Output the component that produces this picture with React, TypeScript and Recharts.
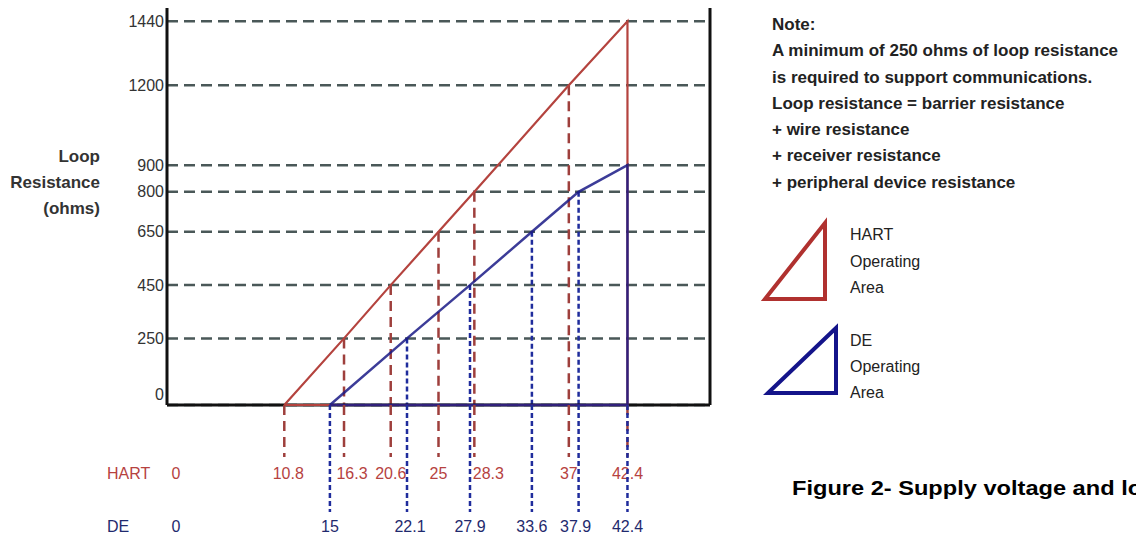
import { LineChart, Line, XAxis, YAxis, CartesianGrid, ReferenceLine } from "recharts";

// supply voltage (V) at each marked loop resistance (ohms)
const HART_VOLTS = [10.8, 16.3, 20.6, 25, 28.3, 37, 42.4];
const HART_OHMS = [0, 250, 450, 650, 800, 1200, 1440];
const DE_VOLTS = [15, 22.1, 27.9, 33.6, 37.9, 42.4];
const DE_OHMS = [0, 250, 450, 650, 800, 900];
const Y_TICKS = [0, 250, 450, 650, 800, 900, 1200, 1440];

const NOTE_LINES = [
  "Note:",
  "A minimum of 250 ohms of loop resistance",
  "is required to support communications.",
  "Loop resistance = barrier resistance",
  "+ wire resistance",
  "+ receiver resistance",
  "+ peripheral device resistance",
];

const RED = "#b4433e";
const RED_DASH = "#9e3f3c";
const NAVY = "#1a1a86";
const BLUE_DASH = "#1f2c9c";
const FONT = "Arial, 'Liberation Sans', sans-serif";

const CHART_H = 537;
const BOTTOM_AREA = 132; // room under the plot for the two voltage rows
const BASE_Y = CHART_H - BOTTOM_AREA; // plot bottom

// small horizontal nudges so labels sit like the original drawing
const LABEL_NUDGE: Record<string, number> = { "0": 9, "10.8": 4, "16.3": 8, "28.3": 14, "22.1": 3, "37.9": -3 };

// triangle outline: hypotenuse, then down the right side and back along the base
const triangle = (volts: number[], ohms: number[]) => [
  ...volts.map((v, i) => ({ v, r: ohms[i] })),
  { v: volts[volts.length - 1], r: 0 },
  { v: volts[0], r: 0 },
];
const hartData = triangle(HART_VOLTS, HART_OHMS);
const deData = triangle(DE_VOLTS, DE_OHMS);

function YTick({ x, y, payload }: any) {
  return (
    <text
      x={x}
      y={payload.value === 0 ? y - 11 : y}
      textAnchor="end"
      dominantBaseline="central"
      fontSize={16}
      fontFamily={FONT}
      fill="#333"
    >
      {payload.value}
    </text>
  );
}

function makeRowTick(name: string, color: string, lineColor: string, dash: string, lineLen: number, labelDy: number) {
  return function RowTick({ x, payload }: any) {
    const v = payload.value;
    const nudge = LABEL_NUDGE[String(v)] ?? 0;
    const y = BASE_Y;
    return (
      <g>
        {v !== 0 && (
          <line x1={x} x2={x} y1={y} y2={y + lineLen} stroke={lineColor} strokeWidth={2.5} strokeDasharray={dash} />
        )}
        {v === 0 && (
          <text x={107} y={y + labelDy} dominantBaseline="central" fontSize={16} fontFamily={FONT} fill={color}>
            {name}
          </text>
        )}
        <text
          x={x + nudge}
          y={y + labelDy}
          textAnchor="middle"
          dominantBaseline="central"
          fontSize={16}
          fontFamily={FONT}
          fill={color}
        >
          {v}
        </text>
      </g>
    );
  };
}

const HartTick = makeRowTick("HART", "#b6423f", RED_DASH, "10 6", 52, 68);
const DeTick = makeRowTick("DE", "#1f2a6e", BLUE_DASH, "5 3", 107, 121);

export default function App() {
  return (
    <div style={{ position: "absolute", left: 0, top: 0, width: 1136, height: 537, overflow: "hidden", background: "#fff", fontFamily: FONT }}>
      <LineChart
        width={760}
        height={CHART_H}
        margin={{ top: 8, right: 50, bottom: 0, left: 107 }}
        style={{ position: "absolute", left: 0, top: 0 }}
      >
        <CartesianGrid
          xAxisId="hart"
          yAxisId="left"
          vertical={false}
          syncWithTicks
          stroke="#4a5858"
          strokeWidth={2.5}
          strokeDasharray="11 6"
        />
        <XAxis
          xAxisId="hart"
          type="number"
          dataKey="v"
          domain={[0, 50]}
          ticks={[0, ...HART_VOLTS]}
          interval={0}
          height={BOTTOM_AREA / 2}
          tickSize={0}
          tickMargin={0}
          tickLine={false}
          axisLine={false}
          tick={<HartTick />}
        />
        <XAxis
          xAxisId="de"
          type="number"
          dataKey="v"
          domain={[0, 50]}
          ticks={[0, ...DE_VOLTS]}
          interval={0}
          height={BOTTOM_AREA / 2}
          tickSize={0}
          tickMargin={0}
          tickLine={false}
          axisLine={false}
          tick={<DeTick />}
        />
        <YAxis
          yAxisId="left"
          type="number"
          domain={[0, 1490]}
          ticks={Y_TICKS}
          interval={0}
          width={60}
          tickSize={0}
          tickMargin={3}
          tickLine={false}
          axisLine={{ stroke: "#111", strokeWidth: 3 }}
          tick={<YTick />}
        />
        <ReferenceLine xAxisId="hart" yAxisId="left" x={50} stroke="#111" strokeWidth={3} />

        {HART_VOLTS.slice(1, -1).map((v, i) => (
          <ReferenceLine
            key={`h${v}`}
            xAxisId="hart"
            yAxisId="left"
            segment={[{ x: v, y: HART_OHMS[i + 1] }, { x: v, y: 0 }]}
            stroke={RED_DASH}
            strokeWidth={2.5}
            strokeDasharray="10 6"
          />
        ))}
        {DE_VOLTS.slice(1, -1).map((v, i) => (
          <ReferenceLine
            key={`d${v}`}
            xAxisId="de"
            yAxisId="left"
            segment={[{ x: v, y: DE_OHMS[i + 1] }, { x: v, y: 0 }]}
            stroke={BLUE_DASH}
            strokeWidth={2.5}
            strokeDasharray="5 3"
          />
        ))}
        {/* bottom axis line */}
        <ReferenceLine xAxisId="hart" yAxisId="left" y={0} stroke="#111" strokeWidth={3} />

        <Line
          xAxisId="hart"
          yAxisId="left"
          data={hartData}
          dataKey="r"
          type="linear"
          stroke={RED}
          strokeWidth={2.2}
          dot={false}
          activeDot={false}
          isAnimationActive={false}
        />
        <Line
          xAxisId="de"
          yAxisId="left"
          data={deData}
          dataKey="r"
          type="linear"
          stroke={NAVY}
          strokeWidth={2.5}
          strokeOpacity={0.85}
          dot={false}
          activeDot={false}
          isAnimationActive={false}
        />
      </LineChart>

      <div
        style={{
          position: "absolute",
          left: 0,
          top: 144,
          width: 100,
          textAlign: "right",
          fontWeight: "bold",
          fontSize: 17,
          lineHeight: "26px",
          color: "#333",
        }}
      >
        Loop
        <br />
        Resistance
        <br />
        (ohms)
      </div>

      <div style={{ position: "absolute", left: 772, top: 12, fontWeight: "bold", fontSize: 17, lineHeight: "26.3px", color: "#222", whiteSpace: "nowrap" }}>
        {NOTE_LINES.map((l) => (
          <div key={l}>{l}</div>
        ))}
      </div>

      <svg width={1136} height={537} style={{ position: "absolute", left: 0, top: 0, pointerEvents: "none" }}>
        <polygon points="765,299 825,223 825,299" fill="none" stroke="#b0312f" strokeWidth={4} />
        <polygon points="768,393 836,328 836,393" fill="none" stroke="#14148a" strokeWidth={4} />
      </svg>
      <div style={{ position: "absolute", left: 850, top: 222, fontSize: 16, lineHeight: "26.5px", color: "#222" }}>
        HART
        <br />
        Operating
        <br />
        Area
      </div>
      <div style={{ position: "absolute", left: 850, top: 328, fontSize: 16, lineHeight: "26px", color: "#222" }}>
        DE
        <br />
        Operating
        <br />
        Area
      </div>

      <div
        style={{
          position: "absolute",
          left: 792,
          top: 477,
          fontWeight: "bold",
          fontSize: 20,
          color: "#000",
          whiteSpace: "nowrap",
          transform: "scaleX(1.18)",
          transformOrigin: "left top",
        }}
      >
        Figure 2- Supply voltage and loop resistance
      </div>
    </div>
  );
}
